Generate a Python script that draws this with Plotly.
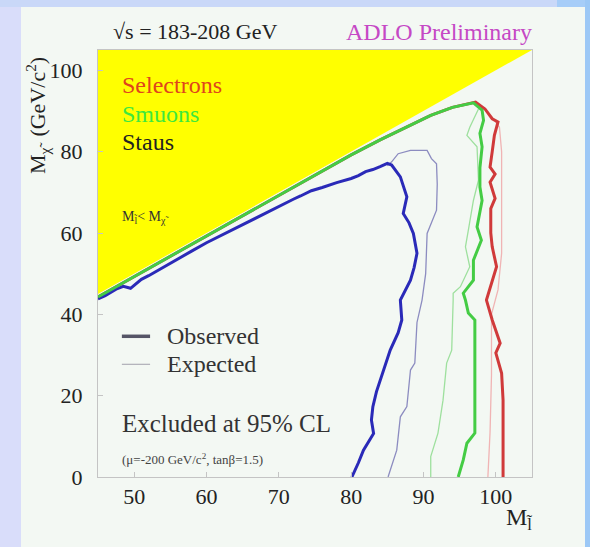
import plotly.graph_objects as go

# ---- exclusion contours (M_slepton vs M_chi), GeV/c^2 ----
stau_obs_x = [45, 46, 47.5, 48.5, 49.5, 51, 52, 54, 56, 58, 60, 62, 64, 66, 68, 70, 72, 73, 74.5,
              76, 78, 80, 81, 82, 83, 84, 85, 85.6, 86.8, 87.7, 87.2, 88.0, 88.6, 89.1, 88.7,
              88.2, 87.5, 87.0, 86.8, 87.0, 86.5, 85.4, 84.8, 84.2, 83.5, 83.0, 82.8, 83.1,
              82.5, 81.7, 81.0, 80.1]
stau_obs_y = [43.8, 44.6, 46.2, 46.9, 46.4, 48.6, 49.5, 51.6, 53.7, 55.6, 57.6, 59.4, 61.2, 63.0,
              64.8, 66.7, 68.3, 69.1, 70.4, 71.2, 72.4, 73.4, 74.1, 75.1, 75.6, 76.3, 77.1, 76.7,
              73.8, 68.9, 64.8, 62.5, 59.9, 55.0, 51.5, 48.4, 46.0, 44.3, 43.5, 38.6, 35.5, 31.2,
              28.0, 24.6, 21.0, 17.3, 14.0, 10.7, 8.8, 6.6, 3.5, 0.0]
stau_exp_x = [85.0, 85.6, 86.5, 88.2, 90.5, 91.1, 91.8, 91.9, 91.8, 91.1, 90.5, 90.3, 89.8, 89.1,
              88.8, 88.2, 87.7, 86.8, 86.3, 85.1]
stau_exp_y = [76.5, 77.5, 79.5, 80.3, 80.3, 78.3, 77.0, 72.0, 65.6, 62.3, 59.9, 50.0, 43.5, 38.0,
              28.0, 26.3, 17.3, 14.8, 6.6, 0.0]

smuon_obs_x = [45, 50, 55, 60, 65, 70, 75, 80, 84, 88, 91, 94, 96.9, 98.1, 98.3, 97.8, 98.1,
               97.8, 97.8, 98.1, 97.4, 98.0, 96.9, 96.9, 95.5, 95.8, 96.2, 97.1, 97.1, 97.1,
               96.0, 95.5, 94.8]
smuon_obs_y = [44.3, 49.3, 54.2, 59.2, 64.2, 69.2, 74.2, 79.2, 82.9, 86.4, 88.9, 90.9, 92.0,
               90.2, 87.7, 84.5, 81.2, 76.0, 71.3, 68.0, 61.5, 58.2, 53.3, 48.4, 45.2, 43.5,
               40.3, 38.6, 25.0, 10.8, 8.3, 4.2, 0.0]
smuon_exp_x = [97.6, 96.4, 96.0, 97.4, 97.6, 96.9, 96.2, 95.8, 96.4, 95.1, 94.1, 94.1, 93.9, 93.2,
               92.7, 92.0, 91.0, 91.0]
smuon_exp_y = [90.5, 86.0, 84.0, 81.2, 73.0, 68.0, 60.7, 56.6, 51.7, 46.8, 45.2, 43.5, 31.2, 28.0,
               18.9, 10.8, 5.0, 0.0]

selectron_obs_x = [45, 50, 55, 60, 65, 70, 75, 80, 84, 88, 91, 94, 97.2, 98.5, 99.5, 100.3,
                   99.8, 99.5, 99.2, 99.9, 99.2, 99.9, 99.3, 99.3, 99.5, 100.1, 99.2, 98.7, 99.5,
                   100.6, 100.0, 100.8, 101.0, 101.0]
selectron_obs_y = [44.3, 49.3, 54.2, 59.2, 64.2, 69.2, 74.2, 79.2, 82.9, 86.4, 88.9, 90.9,
                   92.2, 90.5, 88.1, 87.3, 84.0, 80.0, 76.2, 74.5, 72.5, 68.5, 66.0, 60.0, 56.6,
                   51.7, 46.8, 43.5, 38.6, 32.9, 30.5, 25.5, 18.9, 0.0]
selectron_exp_x = [99.5, 100.5, 100.8, 100.8, 100.3, 99.4, 99.4, 99.2, 98.9]
selectron_exp_y = [88.5, 86.0, 80.0, 55.0, 46.0, 40.0, 25.0, 11.0, 0.0]

# kinematically forbidden region M_l < M_chi
forbidden_x = [45, 45, 105, 45]
forbidden_y = [45, 105, 105, 45]

x_ticks = [50, 60, 70, 80, 90, 100]
y_ticks = [0, 20, 40, 60, 80, 100]

W, H = 590, 547
ML, MR, MT, MB = 98, 58, 50, 70
PW, PH = W - ML - MR, H - MT - MB

SERIF = "Liberation Serif, Times New Roman, serif"


def px(xp):
    return (xp - ML) / PW


def py(yp):
    return (H - MB - yp) / PH


fig = go.Figure()

fig.add_trace(go.Scatter(x=forbidden_x, y=forbidden_y, fill="toself", fillcolor="#ffff00",
                         mode="lines", line=dict(width=0), hoverinfo="skip"))

# expected limits (thin)
fig.add_trace(go.Scatter(x=stau_exp_x, y=stau_exp_y, mode="lines",
                         line=dict(color="#8c8cc0", width=1.3)))
fig.add_trace(go.Scatter(x=smuon_exp_x, y=smuon_exp_y, mode="lines",
                         line=dict(color="#9ee09e", width=1.3)))
fig.add_trace(go.Scatter(x=selectron_exp_x, y=selectron_exp_y, mode="lines",
                         line=dict(color="#f0b4b4", width=1.3)))

# observed limits (thick)
fig.add_trace(go.Scatter(x=selectron_obs_x, y=selectron_obs_y, mode="lines",
                         line=dict(color="#d03a3a", width=3)))
fig.add_trace(go.Scatter(x=stau_obs_x, y=stau_obs_y, mode="lines",
                         line=dict(color="#2a2ab8", width=3)))
fig.add_trace(go.Scatter(x=smuon_obs_x, y=smuon_obs_y, mode="lines",
                         line=dict(color="#44cc44", width=3)))

shapes = [
    # page border strips
    dict(type="rect", xref="paper", yref="paper", x0=px(0), x1=px(21), y0=py(H), y1=py(0),
         fillcolor="#d9ddfa", line=dict(width=0), layer="below"),
    dict(type="rect", xref="paper", yref="paper", x0=px(0), x1=px(557), y0=py(7), y1=py(0),
         fillcolor="#c9d8f8", line=dict(width=0), layer="below"),
    dict(type="rect", xref="paper", yref="paper", x0=px(557), x1=px(W), y0=py(7), y1=py(0),
         fillcolor="#a6cdf8", line=dict(width=0), layer="below"),
    dict(type="rect", xref="paper", yref="paper", x0=px(585), x1=px(W), y0=py(H), y1=py(0),
         fillcolor="#9cc8f6", line=dict(width=0), layer="below"),
    # legend samples
    dict(type="line", xref="x", yref="y", x0=48.3, x1=52.2, y0=34.6, y1=34.6,
         line=dict(color="#555566", width=3.5)),
    dict(type="line", xref="x", yref="y", x0=48.3, x1=52.2, y0=27.7, y1=27.7,
         line=dict(color="#b4b4bc", width=1.3)),
]

annotations = [
    dict(text="√s = 183-208 GeV", xref="paper", yref="paper", x=px(111), y=py(32),
         xanchor="left", yanchor="middle", showarrow=False,
         font=dict(family=SERIF, size=22, color="#222")),
    dict(text="ADLO Preliminary", xref="paper", yref="paper", x=px(534), y=py(32),
         xanchor="right", yanchor="middle", showarrow=False,
         font=dict(family=SERIF, size=24, color="#c548c5")),
    dict(text="M<sub>χ̃</sub>  (GeV/c<sup>2</sup>)", xref="paper", yref="paper",
         x=px(38), y=py(115), xanchor="center", yanchor="middle", textangle=-90,
         showarrow=False, font=dict(family=SERIF, size=22, color="#222")),
    dict(text="M<sub>l̃</sub>", xref="paper", yref="paper", x=px(504), y=py(519),
         xanchor="left", yanchor="middle", showarrow=False,
         font=dict(family=SERIF, size=24, color="#222")),
    dict(text="Selectrons", x=48.1, y=96.4, xanchor="left", yanchor="middle", showarrow=False,
         font=dict(family=SERIF, size=24, color="#e0441c")),
    dict(text="Smuons", x=48.1, y=89.3, xanchor="left", yanchor="middle", showarrow=False,
         font=dict(family=SERIF, size=24, color="#3ee83e")),
    dict(text="Staus", x=48.1, y=82.5, xanchor="left", yanchor="middle", showarrow=False,
         font=dict(family=SERIF, size=24, color="#222")),
    dict(text="M<sub>l̃</sub>< M<sub>χ̃</sub>", x=48.1, y=63.9, xanchor="left",
         yanchor="middle", showarrow=False, font=dict(family=SERIF, size=14, color="#333")),
    dict(text="Observed", x=54.3, y=34.6, xanchor="left", yanchor="middle", showarrow=False,
         font=dict(family=SERIF, size=24, color="#333")),
    dict(text="Expected", x=54.3, y=27.7, xanchor="left", yanchor="middle", showarrow=False,
         font=dict(family=SERIF, size=24, color="#333")),
    dict(text="Excluded at 95% CL", x=48.0, y=13.2, xanchor="left", yanchor="middle",
         showarrow=False, font=dict(family=SERIF, size=25, color="#333")),
    dict(text="(μ=-200 GeV/c<sup>2</sup>, tanβ=1.5)", x=48.0, y=4.4, xanchor="left",
         yanchor="middle", showarrow=False, font=dict(family=SERIF, size=13, color="#444")),
]

axis_common = dict(showgrid=False, zeroline=False, showline=True, mirror=True,
                   linecolor="#c4c4c4", linewidth=1, ticks="inside", ticklen=5,
                   tickcolor="#c4c4c4", tickfont=dict(family=SERIF, size=22, color="#222"))

fig.update_layout(
    width=W, height=H,
    margin=dict(l=ML, r=MR, t=MT, b=MB, pad=0),
    paper_bgcolor="#f3f8f3", plot_bgcolor="#f3f8f3",
    showlegend=False,
    xaxis=dict(range=[45, 105], tickvals=x_ticks, ticklabelstandoff=0, **axis_common),
    yaxis=dict(range=[0, 105], tickvals=y_ticks, ticklabelstandoff=10, **axis_common),
    shapes=shapes, annotations=annotations,
)

fig.write_html("out.html")
